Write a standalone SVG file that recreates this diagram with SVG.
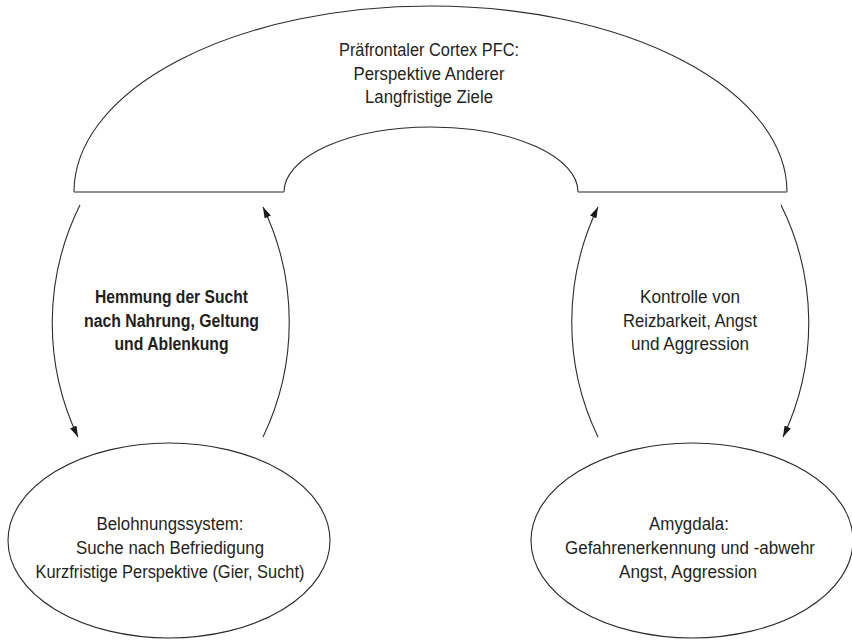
<svg xmlns="http://www.w3.org/2000/svg" width="852" height="642" viewBox="0 0 852 642">
<style>
.shape{fill:none;stroke:#2b2b2b;stroke-width:1.1}
.base{fill:none;stroke:#6e6e6e;stroke-width:1.6}
.conn{fill:none;stroke:#2b2b2b;stroke-width:1.1}
text{font-family:"Liberation Sans",Arial,sans-serif;font-size:17.5px;fill:#231f20;text-anchor:middle}
.b{font-weight:bold}
</style>
<defs>
<marker id="ah" markerUnits="userSpaceOnUse" markerWidth="12" markerHeight="8" refX="11" refY="3.5" orient="auto">
<path d="M0,0 L11,3.5 L0,7 z" fill="#1a1a1a"/>
</marker>
</defs>
<rect width="852" height="642" fill="#ffffff"/>
<g id="pfc">
<path class="shape" d="M74,192 A356.5,186 0 0 1 787,192"/>
<path class="shape" d="M284,192 A147,65 0 0 1 578,192"/>
<line class="base" x1="74" y1="192" x2="284" y2="192"/>
<line class="base" x1="578" y1="192" x2="787" y2="192"/>
<text x="429" y="56" textLength="180" lengthAdjust="spacingAndGlyphs">Präfrontaler Cortex PFC:</text>
<text x="429" y="79.5" textLength="151" lengthAdjust="spacingAndGlyphs">Perspektive Anderer</text>
<text x="429" y="103" textLength="128" lengthAdjust="spacingAndGlyphs">Langfristige Ziele</text>
</g>
<g id="belohnung">
<ellipse class="shape" cx="169" cy="540.5" rx="161" ry="97.5"/>
<text x="170" y="530" textLength="147" lengthAdjust="spacingAndGlyphs">Belohnungssystem:</text>
<text x="170" y="554" textLength="188" lengthAdjust="spacingAndGlyphs">Suche nach Befriedigung</text>
<text x="170" y="578" textLength="269" lengthAdjust="spacingAndGlyphs">Kurzfristige Perspektive (Gier, Sucht)</text>
</g>
<g id="amygdala">
<ellipse class="shape" cx="692" cy="540.5" rx="161" ry="97.5"/>
<text x="689" y="530" textLength="80" lengthAdjust="spacingAndGlyphs">Amygdala:</text>
<text x="690" y="554" textLength="250" lengthAdjust="spacingAndGlyphs">Gefahrenerkennung und -abwehr</text>
<text x="688" y="578" textLength="138" lengthAdjust="spacingAndGlyphs">Angst, Aggression</text>
</g>
<g id="labels">
<text class="b" x="171.5" y="303" textLength="153" lengthAdjust="spacingAndGlyphs">Hemmung der Sucht</text>
<text class="b" x="171.5" y="326.5" textLength="175" lengthAdjust="spacingAndGlyphs">nach Nahrung, Geltung</text>
<text class="b" x="171.5" y="350" textLength="114" lengthAdjust="spacingAndGlyphs">und Ablenkung</text>
<text x="690" y="303" textLength="100" lengthAdjust="spacingAndGlyphs">Kontrolle von</text>
<text x="690" y="326.5" textLength="134" lengthAdjust="spacingAndGlyphs">Reizbarkeit, Angst</text>
<text x="690" y="350" textLength="118" lengthAdjust="spacingAndGlyphs">und Aggression</text>
</g>
<g id="connectors">
<path class="conn" marker-end="url(#ah)" d="M80,205 A265,265 0 0 0 78,437"/>
<path class="conn" marker-end="url(#ah)" d="M263,437 A265,265 0 0 0 263,207"/>
<path class="conn" marker-end="url(#ah)" d="M598,437 A265,265 0 0 1 598,207"/>
<path class="conn" marker-end="url(#ah)" d="M781,205 A265,265 0 0 1 783,437"/>
</g>
</svg>
